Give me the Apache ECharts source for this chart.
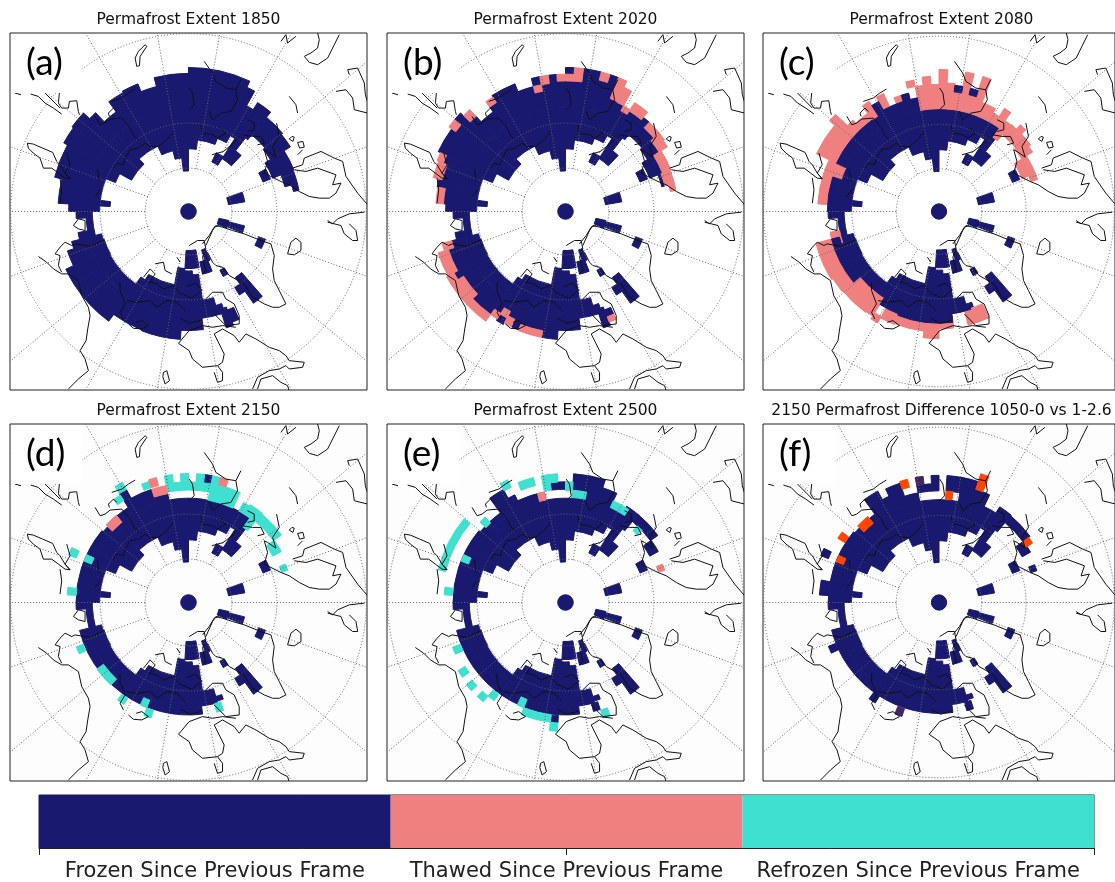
<!DOCTYPE html>
<html><head><meta charset="utf-8">
<style>html,body{margin:0;padding:0;background:#fff;overflow:hidden}#c{width:1115px;height:882px;filter:blur(0.35px)}</style>
<script src="https://cdn.jsdelivr.net/npm/echarts@6/dist/echarts.min.js"></script>
</head><body><div id="c"></div>
<script>
// Cells are [firstColumn, lastColumn, innerRow, outerRow]; a column is 3.6 deg of longitude, a row 1.8 deg of latitude.
const panelTitles = ['Permafrost Extent 1850','Permafrost Extent 2020','Permafrost Extent 2080','Permafrost Extent 2150','Permafrost Extent 2500','2150 Permafrost Difference 1050-0 vs 1-2.6'];
const panelLetters = ['(a)','(b)','(c)','(d)','(e)','(f)'];
const legendLabels = ['Frozen Since Previous Frame','Thawed Since Previous Frame','Refrozen Since Previous Frame'];
const legendValues = [1,1,1];
const parallelRadii = [130,265,533];
const meridianAngles = [10,30,50,70,90,110,130,150,170,190,210,230,250,270,290,310,330,350];

const frozenAlways = [[0,100,0,1],
 [98,100,5.2,6.1],[98,100,6.1,13.2],[96,98,6.9,13.2],[93,96,8,13.2],[88,93,9.2,13.2],[83,88,8.3,13.2],[81,83,10,13.2],[75,81,11.3,13.2],[76,77,10,11.3],
 [0,2,8,13.2],[2,6,9.2,13.2],[6,8,10,13.2],[8,10,11,13.2],
 [74,75,12.2,14.2],[71,74,12.2,13],[70,71,11.4,13.2],[67,70,11.3,13.2],[60,67,11.4,13.2],[59,60,10.3,13.2],[53,59,9.5,13.2],[51,53,7.3,13.2],[49,51,7.6,13.2],[47.5,49,8.1,13.2],[45.5,47.5,11.4,13.2],[44.5,45.5,12.4,13],
 [7,9,7,8.3],[9,12,8,9.8],[9,10.5,9.8,11.8],[17,19,10.2,11.2],[19.5,22.3,5.2,7.3],[28.5,31.5,4,5.3],[29,31,5.1,7.4],[30.5,32.5,9.5,10.4],
 [41,42.2,8.5,9.4],[38.6,40.2,10.3,14.2],[39.9,41.3,11.3,12.4],[43.3,44.8,5.2,6.8],[44,46.5,6.6,8.2],[47,51,5,7.3]];

const frozen1850 = [[0,7,13.2,18],[7,8,13.2,17.2],[8,9,13.2,15.2],[9,11,13.2,16.2],[10,11,11.8,13.2],[11,14,12.6,15.4],[14,16,12.3,15.2],[16,19,11.5,14.3],[19,21,12.6,14.2],[21,22,13.5,14.2],
 [75,76,13.2,15.1],[76,79,13.2,16.4],[79,83,13.2,17.3],[83,85,13.2,17.8],[85,87,13.2,18],[87,88,13.2,17],[88,90,13.2,15.5],[90,92,13.2,17],[92,94,13.2,17.2],[94,96,13.2,16.2],[96,100,13.2,17.3],
 [71,72,13,14.2],[70,71,13.2,15.2],[68,70,13.2,16],[66,68,13.2,17],[60,66,13.2,17],[56,60,13.2,16],[51,56,13.2,16.1],[48,51,13.2,15],[45,48,13,13.6],[44,45,13,15.4],[43,44,13.4,15]];

const frozen2020 = [[96,97,13.2,15.4],[96,97,16.2,17.2],[97,98,13.2,16.2],[98,99,13.2,17.2],[99,100,13.2,16.4],[0,1,13.2,16.4],[0,1,17.2,18],[1,2,13.2,16.4],[2,4,13.2,18],[4,5,13.2,17],[5,6,13.2,18],[6,7,13.2,15.3],[7,8,13.2,15.2],[8,9,13.2,14.5],[9,11,13.2,15],[10,11,11.8,13.2],[11,14,12.6,14.5],[11,12,14.5,15.4],[14,16,12.3,14],[16,19,11.5,13.2],[19,21,12.6,13],
 [75,76,13.2,15.1],[76,78,13.2,15.4],[78,79,13.2,16.4],[79,81,13.2,16],[81,82,13.2,16.5],[82,85,13.2,17.6],[85,86,13.2,17],[86,87,13.2,18],[87,88,13.2,16.4],[88,90,13.2,15.5],[90,91,13.2,16.2],[91,94,13.2,17.2],[94,96,13.2,16.2],
 [71,72,13,14.2],[70,71,13.2,14.8],[67,70,13.2,15.5],[66,67,13.2,16],[63,66,13.2,15.2],[60,63,13.2,16],[59,60,13.2,15.2],[58,59,13.2,14.4],[58,59,15.3,16.2],[57,58,13.2,15],[56,57,13.2,16],[53,56,13.2,15.3],[51,53,13.2,16.1],[48,51,13.2,15],[45,48,13,13.6],[44,45,13,15.4],[43,44,13.4,14.3]];
const thawed2020 = [[96,97,15.4,16.2],[97,98,16.2,17.2],[99,100,16.4,17.2],[0,1,16.4,17.2],[1,2,16.4,18],[4,5,17,18],[6,7,15.3,18],[7,8,15.2,17.2],[8,9,14.5,15.2],[9,11,15,16.2],[12,15,14.5,15.4],[14,16,14,15.2],[16,19,13.2,14.3],[19,21,13,14.2],[21,22,13.5,14.2],
 [76,78,15.4,16.3],[79,81,16,17.1],[81,82,16.5,17.3],[85,86,17,18],[87,88,16.4,17.5],[90,91,16.2,17],
 [70,71,14.8,16],[67,70,15.5,16.8],[66,67,16,17],[63,66,15.2,17],[60,63,16,17],[59,60,15.2,16],[58,59,14.4,15.3],[57,58,15,16],[53,56,15.3,16.1],[43,44,14.3,15]];

const thawed2080 = [[97,100,13.2,16.2],[0,2,13.2,16.4],[98,99,16.2,17.2],[0,1,16.4,18],[2,3,13.2,15.4],[3,4,13.2,18],[4,5,13.2,15.4],[5,6,13.2,18],[6,8,13.2,15],[8,9,13.2,14.4],[10,11,11.8,14.4],[9,10,13.2,15.6],[11,15,12.8,14.5],[12,13,14.5,15.2],[14,16,12.6,14.2],[16,19,11.5,13.3],[19,20,12.4,13.3],
 [76,80,14.3,15.5],[80,82,13.2,15.5],[82,86,14.5,17.2],[86,87,14.5,18],[87,88,14.5,16],[88,91,14.5,15.5],[90,91,14.4,16.6],[92,93,14.8,16.6],[94,95,14.8,15.6],[96,97,16.2,17],
 [70,72,13,14.2],[68,71,14.2,16.2],[66,68,14.2,16.2],[64,66,14.2,16],[60,64,13.2,15.9],[59,60,13.2,15.8],[58,59,15.3,16.2],[56,58,14.1,15.5],[52,56,14.3,15.4],[50,52,14.3,16.2],[48,50,14.3,15],[43,46,13.1,15]];
const frozen2080 = [[75,80,13.2,14.3],[82,90,13.2,14.5],[90,91,13.2,14.4],[91,92,13.2,16],[92,95,13.2,14.8],[95,96,13.2,15.6],[96,97,13.2,14.8],[2,3,15.4,16.2],[4,5,15.4,16.2],[64,71,13.2,14.2],[56,59,13.2,14.1],[48,56,13.2,14.3],[45,48,13,13.2]];

const frozen2150 = [[75,80,13.2,14.2],[80,86,13.2,14.2],[86,87,13.2,14],[89,91,13.2,14.2],[91,92,13.2,16.2],[92,95,13.2,15],[95,97,13.2,14],[64,71,13.2,14.2],[60,64,13.2,14.2],[48,60,13.2,14.2],[2,3,15.2,16.2],[8,9,13.2,13.5]];
const refrozen2150 = [[97,100,14.2,15.2],[0,3,14.2,15.2],[97,98,15.2,16.2],[99,100,15.2,16.2],[1,2,15.2,16.2],[3,7,13.2,15.3],[3,4,15.3,16.2],[8,9,13.2,14.4],[9,10,13.2,14.6],[10,11,11.8,14.6],[11,15,13.3,14.5],[15,17,12.2,13.4],[19,20,12.4,13.2],
 [91,92,16.2,17.2],[90,91,15.2,16],[94,95,15.2,16],[81,82,15.2,16.2],[81,82,13.2,14.2],[76,77,14.2,15.3],[68,69,14.3,15.2],[62,65,13.3,14.3],[59,60,14.3,15.2],[56,57,13.3,14.3],[55,56,14.3,15.3],[45,46,13.2,14.3]];
const thawed2150 = [[95,96,15.2,16.2],[95,97,14,15],[87,89,13.2,14.3],[4,5,15.3,16.2]];

const frozen2500 = [[75,80,13.2,14.2],[80,86,13.2,14.2],[86,90,13.2,14],[90,92,13.2,16.2],[92,93,13.2,15],[93,97,13.2,14.2],[98,100,14.3,15.2],[1,5,13.2,16.2],[5,7,13.2,15.2],[7,9,13.2,13.5],[9,10,13.2,14.4],[10,11,11.8,14.4],[11,15,13.3,14.4],[15,17,12.2,13.4],[48,71,13.2,14.2],[45,46,13.2,14.2],[51,52,14.3,15.2]];
const refrozen2500 = [[97,99,15.2,16.2],[97,98,14.3,15.2],[94,96,15.2,16.2],[92,93,16,17],[0,1,14.1,15.2],[1,3,13.3,14.2],[7,9.5,13.3,14.2],[12,13,12.5,13.3],[79,86,15.6,16.5],[81,82,13.2,14.2],[87,88,13.8,14.8],[76,77,14.3,15.3],[68,69,14.3,15.3],[65,66,15,16],[63,64,15.3,16.2],[61,62,15.3,16.2],[60,61,14.3,15.3],[56,57,13.2,14.3],[52,56,14.3,15.2],[51,52,15.2,16.2],[44,45,14.3,15.3]];
const thawed2500 = [[96,97,13.2,14.2],[19,20,12.4,13.2]];

const frozenDifference = [[76,78,14.2,15.3],[75,80,13.2,14.2],[80,86,13.2,14.2],[86,90,13.2,14],[90,92,13.2,16.2],[92,93,13.2,15],[93,95,13.2,16],[95,97,13.2,14.3],[97,100,14.3,15.2],[99,100,15.2,16.2],[1,3,14.3,16.2],[3,5,13.2,16.2],[5,7,13.2,15.2],[7,9,13.2,13.6],[9,10,13.2,14.5],[10,11,11.8,14.5],[11,15,13.3,14.4],[15,17,12.2,13.4],[19,20,12.4,13.2],[81,82,15.2,16.2],[48,71,13.2,14.2],[68,69,14.2,15.2],[59,60,14.2,15.2],[45,46,13.2,14.3]];
const warmerDifference = [[95,96,15.2,16.2],[1,2,13.3,14.3],[5,6,15.2,17.2],[87,89,13.2,14.3],[84,85,14.3,15.3],[81,82,13.2,14.2],[15,16,13.2,14.2]];
const colderDifference = [[97,98,15.2,16.2],[55,56,14.3,15.3]];

// Coastlines, in map units measured from the top-left corner of a panel.
const coastlines = [
 [[52,330],[70,333],[98,345],[128,358],[140,385],[150,395],[165,420],[180,437],[165,435],[145,420],[125,405],[100,405],[90,375],[70,360],[55,345],[52,330]],
 [[150,435],[155,470],[150,510]],[[170,360],[180,395],[165,420],[180,437]],
 [[15,180],[33,185]],[[62,183],[85,190],[105,210],[130,225],[155,243]],[[105,180],[135,210],[150,225]],
 [[148,180],[145,210],[155,225],[175,225],[178,205],[200,203],[205,235],[208,245]],
 [[255,250],[270,275],[285,270],[300,258],[335,255],[360,285],[372,310],[385,320]],
 [[298,250],[295,240],[310,225],[320,235]],[[375,168],[355,180],[335,195],[305,205]],
 [[405,35],[385,55],[375,75],[380,100],[388,98],[390,70],[410,40],[405,35]],
 [[310,405],[320,390],[340,395],[345,375],[360,350],[385,345],[405,330],[420,340],[445,340],[470,320],[490,295]],
 [[262,408],[265,430],[268,445]],[[255,490],[270,470]],
 [[582,85],[607,120],[617,145],[647,165],[677,170],[692,140]],
 [[677,170],[682,200],[662,235],[632,240],[607,260],[597,235]],
 [[537,165],[547,180],[552,215],[537,230]],
 [[572,275],[577,300],[607,305],[622,315],[647,300],[627,285]],
 [[712,260],[732,270],[732,290],[712,295]],[[697,305],[727,310],[752,310],[762,330],[742,335]],
 [[799,270],[807,310],[787,340],[797,372],[772,355],[762,350],[772,385],[762,420],[782,430],[812,445],[837,455],[867,475],[897,490],[927,495],[957,495]],
 [[605,365],[640,355],[670,330],[690,310]],
 [[847,405],[877,395],[882,375],[932,355],[972,375],[997,385],[1007,430],[1042,480],[1072,515]],
 [[852,410],[887,415],[922,405],[977,425],[967,455],[992,450],[977,480],[957,495]],
 [[837,318],[845,310],[852,312],[848,325],[837,318]],[[862,328],[878,325],[882,342],[868,345],[862,328]],[[862,365],[877,350]],
 [[837,190],[857,215],[862,240]],
 [[812,25],[827,5],[832,30],[857,10]],
 [[882,70],[902,60],[922,45],[927,20],[922,0]],[[882,70],[897,88],[922,95],[952,75],[967,45],[987,5]],
 [[1017,125],[1012,110],[1042,105],[1062,150],[1065,185],[1074,215]],
 [[977,175],[1007,170],[1027,195],[1032,230],[1072,240]],
 [[190,577],[205,557],[225,562],[225,592],[205,587],[190,577]],
 [[85,670],[110,687],[130,707],[155,722],[175,722],[205,742],[215,787],[235,822],[240,847],[233,887],[228,922],[210,952],[225,977],[235,1012],[205,1037],[175,1067]],
 [[135,662],[150,642],[165,627],[185,637],[195,632],[240,640],[280,620]],[[135,662],[150,667],[145,697],[155,717]],
 [[378,867],[395,862],[415,877],[395,887],[370,885],[355,872]],
 [[330,747],[330,772],[345,812],[330,837],[340,857]],
 [[350,802],[380,807],[420,802],[440,822],[470,802],[500,807],[525,832]],
 [[420,747],[440,752],[460,767],[490,757],[510,780],[545,795],[575,770],[555,750],[530,760]],
 [[510,855],[540,870],[575,860]],
 [[435,692],[460,687],[465,712],[485,722]],[[500,672],[510,687]],[[400,732],[420,707],[435,722],[415,752]],
 [[460,1017],[470,1012],[478,1042],[465,1052],[458,1030],[460,1017]],
 [[537,637],[562,622],[582,622],[587,647],[577,672],[587,712],[577,722]],
 [[577,632],[597,607],[612,582],[627,577]],
 [[587,637],[607,592],[617,577],[637,582],[667,592],[702,602],[752,622],[782,632],[792,667],[787,707],[792,742],[807,772],[827,812],[807,822],[787,822],[762,812],[727,792],[702,752],[657,727],[637,702],[617,697],[607,687],[592,657]],
 [[842,627],[857,615],[872,627],[872,652],[852,665],[832,662],[842,627]],
 [[952,562],[967,572],[982,557],[1017,542],[1062,537]],
 [[952,567],[992,577],[1002,602],[1027,622],[1042,622],[1037,592],[1017,572]],
 [[587,797],[607,777],[637,777],[647,797],[672,812],[687,847],[687,872],[647,877],[612,842]],
 [[505,930],[537,892],[577,877],[607,882],[637,877],[677,882]],
 [[612,902],[637,887],[672,907],[687,927],[707,902],[737,917],[777,942],[807,952],[827,967],[837,982],[882,987],[877,1002],[837,1007],[827,997],[807,1007],[777,1012],[742,1032],[727,1067]],
 [[612,902],[627,932],[642,962],[637,987],[622,997],[577,1002],[547,977],[537,952],[505,930]],
 [[622,997],[637,1017],[637,1042],[622,1047],[612,1017]],
 [[742,1067],[752,1037],[787,1027],[812,1047],[832,1057],[837,1074]]
];

const panelLayers = [
 [[frozen1850,'frozen']],
 [[frozen2020,'frozen'],[thawed2020,'thawed']],
 [[thawed2080,'thawed'],[frozen2080,'frozen']],
 [[frozen2150,'frozen'],[refrozen2150,'refrozen'],[thawed2150,'thawed']],
 [[frozen2500,'frozen'],[refrozen2500,'refrozen'],[thawed2500,'thawed']],
 [[frozenDifference,'frozen'],[warmerDifference,'warmer'],[colderDifference,'colder']]
];

const palette = {frozen:'#191970',thawed:'#F08080',refrozen:'#40E0D0',warmer:'#FF4500',colder:'#432566'};
const legendColors = [palette.frozen,palette.thawed,palette.refrozen];
const panelLeft = [10,387,763,10,387,763], panelTop = [33,33,33,424,424,424];
const panelSize = 357, mapHalf = 535, scaleK = 1486;
const rowRadius = r => scaleK*Math.tan(r*0.9*Math.PI/180);
const kinds = ['frozen','thawed','refrozen','warmer','colder'];

function cellItem(params, api){
  const o = api.coord([0,0]), e = api.coord([rowRadius(api.value(3)),0]), i = api.coord([rowRadius(api.value(2)),0]);
  const a0 = (api.value(0)*3.6-90)*Math.PI/180, a1 = (api.value(1)*3.6-90)*Math.PI/180;
  const fill = palette[kinds[api.value(4)]];
  return {type:'sector',shape:{cx:o[0],cy:o[1],r0:i[0]-o[0],r:e[0]-o[0],startAngle:a0,endAngle:a1,clockwise:true},
          style:{fill:fill,stroke:fill,lineWidth:1,lineJoin:'miter'}};
}
const dotted = {fill:'none',stroke:'#666',lineWidth:1,lineDash:[1,2]};
function ringItem(params, api){
  const o = api.coord([0,0]), e = api.coord([api.value(0),0]);
  return {type:'circle',shape:{cx:o[0],cy:o[1],r:e[0]-o[0]},style:dotted};
}
function spokeItem(params, api){
  const t = api.value(0)*Math.PI/180, s = Math.sin(t), c = Math.cos(t);
  const a = api.coord([parallelRadii[0]*s,-parallelRadii[0]*c]), b = api.coord([800*s,-800*c]);
  return {type:'line',shape:{x1:a[0],y1:a[1],x2:b[0],y2:b[1]},style:dotted};
}
function coastItem(params, api){
  const pts = coastlines[api.value(0)].map(p=>api.coord([p[0]-mapHalf,p[1]-mapHalf]));
  return {type:'polyline',shape:{points:pts},style:{fill:'none',stroke:'#111',lineWidth:1}};
}

const grids=[],xAxes=[],yAxes=[],series=[],titles=[],graphics=[];
panelTitles.forEach((t,i)=>{
  grids.push({left:panelLeft[i],top:panelTop[i],width:panelSize,height:panelSize,show:true,borderColor:'#222',borderWidth:1,backgroundColor:i>2?'#fdfdfd':'#fff'});
  xAxes.push({type:'value',gridIndex:i,min:-mapHalf,max:mapHalf,show:false});
  yAxes.push({type:'value',gridIndex:i,min:-mapHalf,max:mapHalf,inverse:true,show:false});
  titles.push({text:t,left:panelLeft[i]+178.5,top:panelTop[i]-21,padding:0,textAlign:'center',textStyle:{fontFamily:'DejaVu Sans',fontSize:15.5,fontWeight:'normal',color:'#111'}});
  const cells = frozenAlways.map(c=>c.concat(0));
  panelLayers[i].forEach(l=>l[0].forEach(c=>cells.push(c.concat(kinds.indexOf(l[1])))));
  const common = {coordinateSystem:'cartesian2d',xAxisIndex:i,yAxisIndex:i,clip:true,silent:true,animation:false};
  series.push(Object.assign({type:'custom',name:'cells'+i,renderItem:cellItem,data:cells,z:2},common));
  series.push(Object.assign({type:'custom',name:'coast'+i,renderItem:coastItem,data:coastlines.map((l,k)=>[k]),z:3},common));
  series.push(Object.assign({type:'custom',name:'rings'+i,renderItem:ringItem,data:parallelRadii.map(v=>[v]),z:4},common));
  series.push(Object.assign({type:'custom',name:'spokes'+i,renderItem:spokeItem,data:meridianAngles.map(v=>[v]),z:4},common));
  graphics.push({type:'rect',z:50,silent:true,shape:{x:panelLeft[i]+1,y:panelTop[i]+1,width:71,height:59},style:{fill:'#fff'}});
  graphics.push({type:'text',z:51,silent:true,x:panelLeft[i]+16,y:panelTop[i]+12,style:{text:panelLetters[i],font:'37px Lato',fill:'#000'}});
});

grids.push({left:39,top:795,width:1055,height:53,show:true,borderColor:'#222',borderWidth:1});
xAxes.push({type:'value',gridIndex:6,min:0,max:3,interval:1.5,axisLine:{show:true,lineStyle:{color:'#222'}},axisTick:{show:true,length:7,lineStyle:{color:'#222'}},axisLabel:{show:false},splitLine:{show:false}});
xAxes.push({type:'category',gridIndex:6,position:'bottom',data:legendLabels,axisLine:{show:false},axisTick:{show:false},splitLine:{show:false},axisLabel:{show:true,interval:0,margin:13,fontFamily:'DejaVu Sans',fontSize:21,color:'#222'}});
yAxes.push({type:'category',gridIndex:6,data:['state'],show:false});
legendLabels.forEach((n,i)=>series.push({type:'bar',name:n,stack:'bar',xAxisIndex:6,yAxisIndex:6,barWidth:'100%',data:[legendValues[i]],itemStyle:{color:legendColors[i]},silent:true,animation:false,z:2}));

const chart = echarts.init(document.getElementById('c'),null,{renderer:'canvas'});
chart.setOption({animation:false,backgroundColor:'#fff',tooltip:{show:false},title:titles,grid:grids,xAxis:xAxes,yAxis:yAxes,series:series,graphic:graphics});
</script></body></html>
